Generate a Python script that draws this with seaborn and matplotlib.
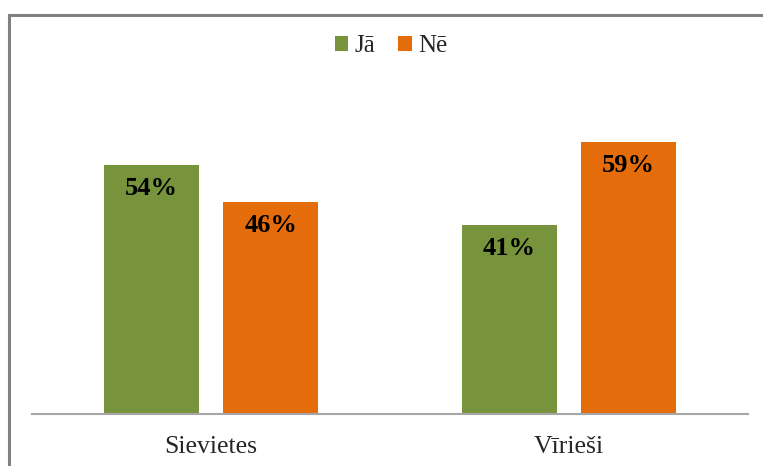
import pandas as pd
import seaborn as sns
from matplotlib import pyplot as plt
from matplotlib.patches import Rectangle

sns.set_theme(style="white")
plt.rcParams["font.family"] = ["Liberation Serif", "DejaVu Serif"]

# dati
grupas = ["Sievietes", "Vīrieši"]
atbildes = ["Jā", "Nē"]
ja_vertibas = [54, 41]
ne_vertibas = [46, 59]
krasas = ["#77933C", "#E46C0A"]

df = pd.DataFrame({
    "grupa": grupas * 2,
    "atbilde": [atbildes[0]] * 2 + [atbildes[1]] * 2,
    "procenti": ja_vertibas + ne_vertibas,
})

fig = plt.figure(figsize=(7.63, 4.66), dpi=100)
ax = fig.add_axes([32 / 763, 52 / 466, 716 / 763, 322.7 / 466])

sns.barplot(data=df, x="grupa", y="procenti", hue="atbilde",
            hue_order=atbildes, palette=krasas, width=0.666, gap=0.2,
            saturation=1, linewidth=0, ax=ax)

for cont in ax.containers:
    ax.bar_label(cont, labels=[f"{v:.0f}%" for v in cont.datavalues],
                 label_type="edge", padding=-25, fontsize=19,
                 fontweight="bold", color="black")

ax.set_xlim(-0.5, 1.5)
ax.set_ylim(0, 70)
ax.set_xlabel("")
ax.set_ylabel("")
ax.set_yticks([])
ax.tick_params(axis="x", length=0, labelsize=18.5, pad=16)
for s in ["top", "left", "right"]:
    ax.spines[s].set_visible(False)
ax.spines["bottom"].set_color("#A6A6A6")
ax.spines["bottom"].set_linewidth(1.5)

ax.legend(loc="center", bbox_to_anchor=(391 / 763, 1 - 46 / 466),
          bbox_transform=fig.transFigure, ncol=2, frameon=False,
          fontsize=18, handlelength=0.55, handleheight=0.55,
          handletextpad=0.25, columnspacing=0.9)

# rāmis ap diagrammu
fig.patches.append(Rectangle((8.5 / 763, -0.5), 2, 1.5 - 14.5 / 466,
                             transform=fig.transFigure, fill=False,
                             edgecolor="#808080", linewidth=2.2))

plt.savefig("out.png", dpi=100)
